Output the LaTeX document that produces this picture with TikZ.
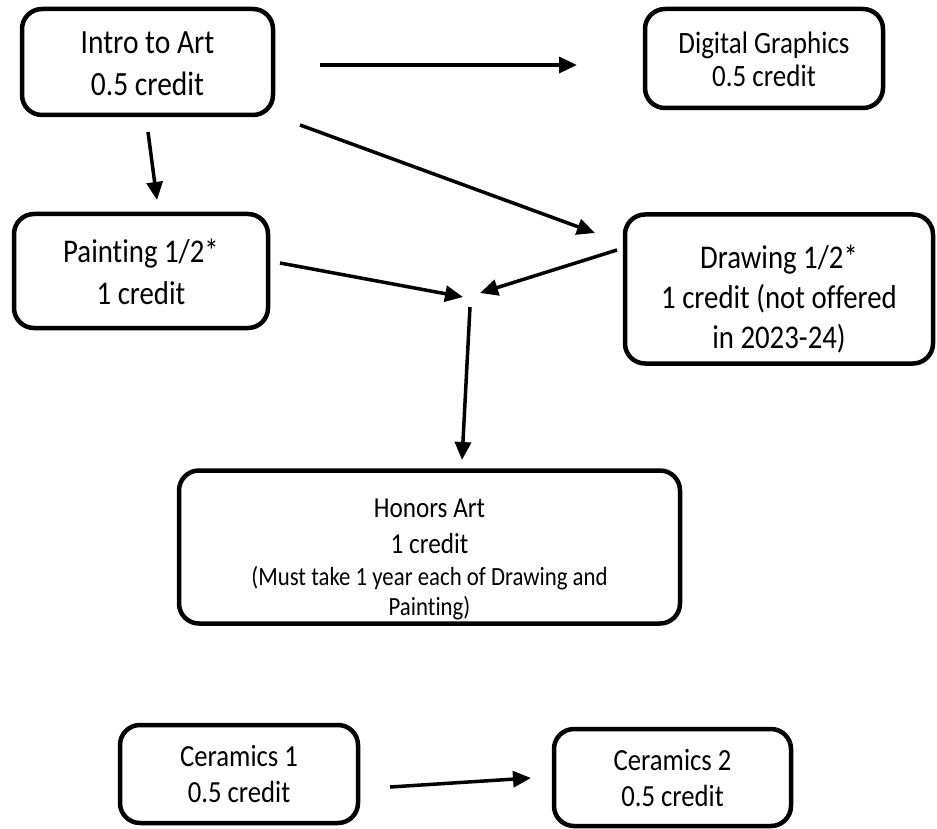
\documentclass[tikz,border=0pt]{standalone}
\usepackage{fontspec}
\usepackage{graphicx}
\setmainfont{Carlito}[Ligatures=NoCommon]
\usetikzlibrary{arrows.meta}
\newcommand{\boxtext}[3][0pt]{\raisebox{\dimexpr #1-0.2875em\relax}[0pt][0pt]{\scalebox{1}[1.15]{\parbox{#2}{\centering #3}}}}
\tikzset{
  course/.style={draw, line width=4.5pt, rounded corners=20pt, inner sep=0pt},
  link/.style={-{Triangle[length=18pt,width=16pt]}, line width=3.5pt},
}
\begin{document}
\begin{tikzpicture}[x=1pt,y=-1pt]
    \useasboundingbox (0,0) rectangle (937,829);
    % courses
    \node[course, minimum width=251pt, minimum height=106pt, font=\fontsize{29.5}{36.5}\selectfont] (intro) at (147.5,62) {\boxtext{240pt}{Intro to Art\\0.5 credit}};
    \node[course, minimum width=238pt, minimum height=99pt, font=\fontsize{27}{28.7}\selectfont] (digital) at (764,58.5) {\boxtext{230pt}{Digital Graphics\\0.5 credit}};
    \node[course, minimum width=254pt, minimum height=114pt, font=\fontsize{28.8}{36.5}\selectfont] (painting) at (141,271) {\boxtext{240pt}{Painting 1/2*\\1 credit}};
    \node[course, minimum width=308pt, minimum height=149pt, font=\fontsize{28.8}{34.8}\selectfont] (drawing) at (779,289) {\boxtext[-9pt]{300pt}{Drawing 1/2*\\1 credit (not offered\\in 2023-24)}};
    \node[course, minimum width=501pt, minimum height=153pt, font=\fontsize{25.2}{26}\selectfont] (honors) at (429.5,547) {\boxtext[-12pt]{480pt}{Honors Art\\[5.3pt]1 credit\\[1.8pt]{\fontsize{22.8}{26}\selectfont (Must take 1 year each of Drawing and\\Painting)}}};
    \node[course, minimum width=238pt, minimum height=98pt, font=\fontsize{26.7}{31.3}\selectfont] (ceramicsA) at (239,774) {\boxtext{230pt}{Ceramics 1\\0.5 credit}};
    \node[course, minimum width=237pt, minimum height=97pt, font=\fontsize{26.7}{31.3}\selectfont] (ceramicsB) at (672.5,777.5) {\boxtext{230pt}{Ceramics 2\\0.5 credit}};
    % loose arrow ends
    \coordinate (introR) at (320,65);
    \coordinate (digitalL) at (577,65);
    \coordinate (introB) at (148,132);
    \coordinate (paintingT) at (157,200);
    \coordinate (introD) at (300,125);
    \coordinate (drawingT) at (595,233);
    \coordinate (paintingR) at (280,263);
    \coordinate (joinL) at (463,297);
    \coordinate (drawingL) at (617,250);
    \coordinate (joinR) at (480,293);
    \coordinate (joinB) at (470,307);
    \coordinate (honorsT) at (462,460);
    \coordinate (ceramicsAR) at (390,787);
    \coordinate (ceramicsBL) at (531,778);
    % prerequisites
    \draw[link] (introR) -- (digitalL);
    \draw[link] (introB) -- (paintingT);
    \draw[link] (introD) -- (drawingT);
    \draw[link] (paintingR) -- (joinL);
    \draw[link] (drawingL) -- (joinR);
    \draw[link] (joinB) -- (honorsT);
    \draw[link] (ceramicsAR) -- (ceramicsBL);
\end{tikzpicture}
\end{document}
